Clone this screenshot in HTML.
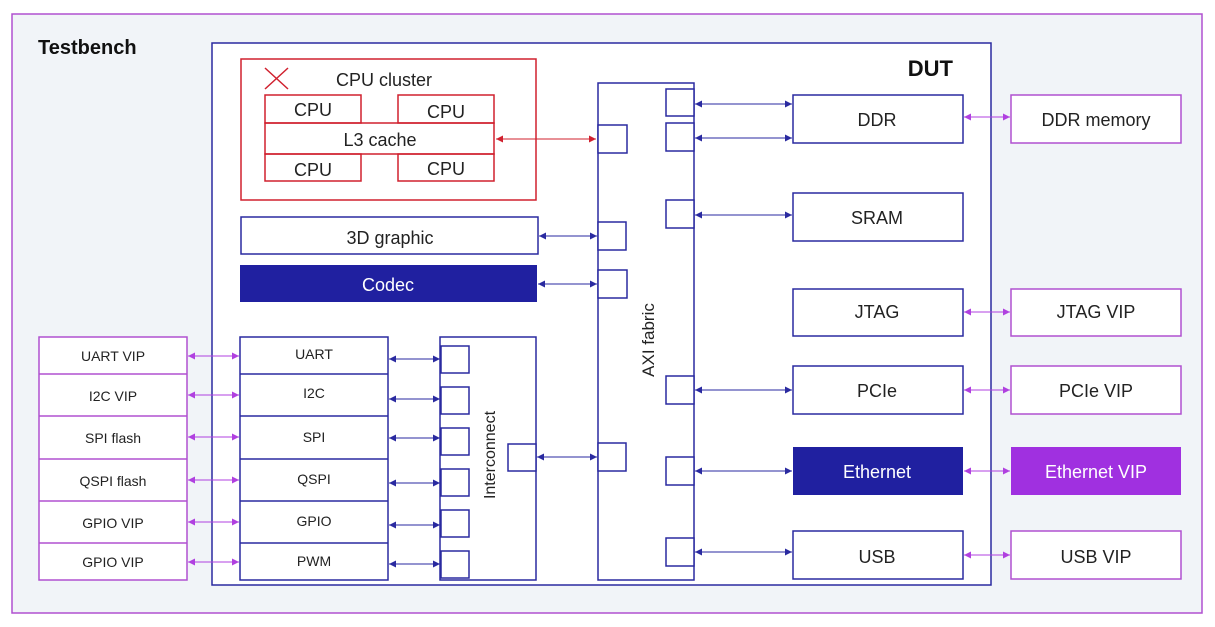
<!DOCTYPE html>
<html><head><meta charset="utf-8"><style>
html,body{margin:0;padding:0;background:#fff;}
svg{display:block;font-family:"Liberation Sans",sans-serif;}
</style></head><body>
<svg width="1215" height="627" viewBox="0 0 1215 627" xmlns="http://www.w3.org/2000/svg">
<defs>
<marker id="b" viewBox="0 0 10 10" refX="10" refY="5" markerWidth="7" markerHeight="7" orient="auto-start-reverse"><path d="M0,0L10,5L0,10z" fill="#2a2aa0"/></marker>
<marker id="p" viewBox="0 0 10 10" refX="10" refY="5" markerWidth="7" markerHeight="7" orient="auto-start-reverse"><path d="M0,0L10,5L0,10z" fill="#b040e0"/></marker>
<marker id="r" viewBox="0 0 10 10" refX="10" refY="5" markerWidth="7" markerHeight="7" orient="auto-start-reverse"><path d="M0,0L10,5L0,10z" fill="#d0202e"/></marker>
</defs>
<rect x="12" y="14" width="1190" height="599" fill="#f1f4f8" stroke="#b050d0" stroke-width="1.5"/>
<text x="38" y="54" font-size="20" font-weight="bold" fill="#111">Testbench</text>
<rect x="212" y="43" width="779" height="542" fill="#fff" stroke="#2a2aa0" stroke-width="1.5"/>
<text x="953" y="76" font-size="22" font-weight="bold" fill="#111" text-anchor="end">DUT</text>

<g fill="none" stroke="#d0202e" stroke-width="1.5">
<rect x="241" y="59" width="295" height="141"/>
<path d="M265,68L288,89M288,68L265,89"/>
<rect x="265" y="95" width="96" height="28"/><rect x="398" y="95" width="96" height="28"/>
<rect x="265" y="123" width="229" height="31"/>
<rect x="265" y="154" width="96" height="27"/><rect x="398" y="154" width="96" height="27"/>
<line x1="496" y1="139" x2="596" y2="139" marker-start="url(#r)" marker-end="url(#r)" stroke-width="1"/>
</g>
<g font-size="18" fill="#222" text-anchor="middle">
<text x="384" y="86">CPU cluster</text>
<text x="313" y="116">CPU</text><text x="446" y="118">CPU</text>
<text x="380" y="146">L3 cache</text>
<text x="313" y="176">CPU</text><text x="446" y="175">CPU</text>
</g>

<g fill="#fff" stroke="#2a2aa0" stroke-width="1.5">
<rect x="598" y="83" width="96" height="497"/>
<rect x="666" y="89" width="28" height="27"/><rect x="666" y="123" width="28" height="28"/>
<rect x="666" y="200" width="28" height="28"/><rect x="666" y="376" width="28" height="28"/>
<rect x="666" y="457" width="28" height="28"/><rect x="666" y="538" width="28" height="28"/>
<rect x="598" y="125" width="29" height="28"/><rect x="598" y="222" width="28" height="28"/>
<rect x="598" y="270" width="29" height="28"/><rect x="598" y="443" width="28" height="28"/>
<rect x="241" y="217" width="297" height="37"/>
<rect x="793" y="95" width="170" height="48"/><rect x="793" y="193" width="170" height="48"/>
<rect x="793" y="289" width="170" height="47"/><rect x="793" y="366" width="170" height="48"/>
<rect x="793" y="531" width="170" height="48"/>
<rect x="240" y="337" width="148" height="243"/>
<rect x="440" y="337" width="96" height="243"/>
<rect x="441" y="346" width="28" height="27"/><rect x="441" y="387" width="28" height="27"/>
<rect x="441" y="428" width="28" height="27"/><rect x="441" y="469" width="28" height="27"/>
<rect x="441" y="510" width="28" height="27"/><rect x="441" y="551" width="28" height="27"/>
<rect x="508" y="444" width="28" height="27"/>
</g>
<rect x="240" y="265" width="297" height="37" fill="#2020a0"/>
<rect x="793" y="447" width="170" height="48" fill="#2020a0"/>
<g stroke="#2a2aa0" stroke-width="1.5"><path d="M240,374H388M240,416H388M240,459H388M240,501H388M240,543H388"/></g>

<g fill="#fff" stroke="#b050d0" stroke-width="1.5">
<rect x="1011" y="95" width="170" height="48"/><rect x="1011" y="289" width="170" height="47"/>
<rect x="1011" y="366" width="170" height="48"/><rect x="1011" y="531" width="170" height="48"/>
<rect x="39" y="337" width="148" height="243"/>
<path d="M39,374H187M39,416H187M39,459H187M39,501H187M39,543H187"/>
</g>
<rect x="1011" y="447" width="170" height="48" fill="#a030e0"/>

<g stroke="#2a2aa0" stroke-width="1" marker-start="url(#b)" marker-end="url(#b)">
<line x1="695" y1="104" x2="792" y2="104"/><line x1="695" y1="138" x2="792" y2="138"/>
<line x1="695" y1="215" x2="792" y2="215"/><line x1="695" y1="390" x2="792" y2="390"/>
<line x1="695" y1="471" x2="792" y2="471"/><line x1="695" y1="552" x2="792" y2="552"/>
<line x1="539" y1="236" x2="597" y2="236"/><line x1="538" y1="284" x2="597" y2="284"/>
<line x1="537" y1="457" x2="597" y2="457"/>
<line x1="389" y1="359" x2="440" y2="359"/><line x1="389" y1="399" x2="440" y2="399"/>
<line x1="389" y1="438" x2="440" y2="438"/><line x1="389" y1="483" x2="440" y2="483"/>
<line x1="389" y1="525" x2="440" y2="525"/><line x1="389" y1="564" x2="440" y2="564"/>
</g>
<g stroke="#b040e0" stroke-width="1" marker-start="url(#p)" marker-end="url(#p)">
<line x1="964" y1="117" x2="1010" y2="117"/><line x1="964" y1="312" x2="1010" y2="312"/>
<line x1="964" y1="390" x2="1010" y2="390"/><line x1="964" y1="471" x2="1010" y2="471"/>
<line x1="964" y1="555" x2="1010" y2="555"/>
<line x1="188" y1="356" x2="239" y2="356"/><line x1="188" y1="395" x2="239" y2="395"/>
<line x1="188" y1="437" x2="239" y2="437"/><line x1="188" y1="480" x2="239" y2="480"/>
<line x1="188" y1="522" x2="239" y2="522"/><line x1="188" y1="562" x2="239" y2="562"/>
</g>

<g font-size="18" fill="#222" text-anchor="middle">
<text x="390" y="244">3D graphic</text>
<text x="388" y="291" fill="#fff">Codec</text>
<text x="877" y="126">DDR</text><text x="877" y="224">SRAM</text>
<text x="877" y="318">JTAG</text><text x="877" y="397">PCIe</text>
<text x="877" y="478" fill="#fff">Ethernet</text><text x="877" y="563">USB</text>
<text x="1096" y="126">DDR memory</text><text x="1096" y="318">JTAG VIP</text>
<text x="1096" y="397">PCIe VIP</text><text x="1096" y="478" fill="#fff">Ethernet VIP</text>
<text x="1096" y="563">USB VIP</text>
<text transform="translate(654,340) rotate(-90)" font-size="17">AXI fabric</text>
<text transform="translate(495,455) rotate(-90)" font-size="16">Interconnect</text>
</g>
<g font-size="14" fill="#222" text-anchor="middle">
<text x="314" y="359">UART</text><text x="314" y="398">I2C</text>
<text x="314" y="442">SPI</text><text x="314" y="484">QSPI</text>
<text x="314" y="526">GPIO</text><text x="314" y="566">PWM</text>
<text x="113" y="361">UART VIP</text><text x="113" y="401">I2C VIP</text>
<text x="113" y="443">SPI flash</text><text x="113" y="486">QSPI flash</text>
<text x="113" y="528">GPIO VIP</text><text x="113" y="567">GPIO VIP</text>
</g>
</svg>
</body></html>
